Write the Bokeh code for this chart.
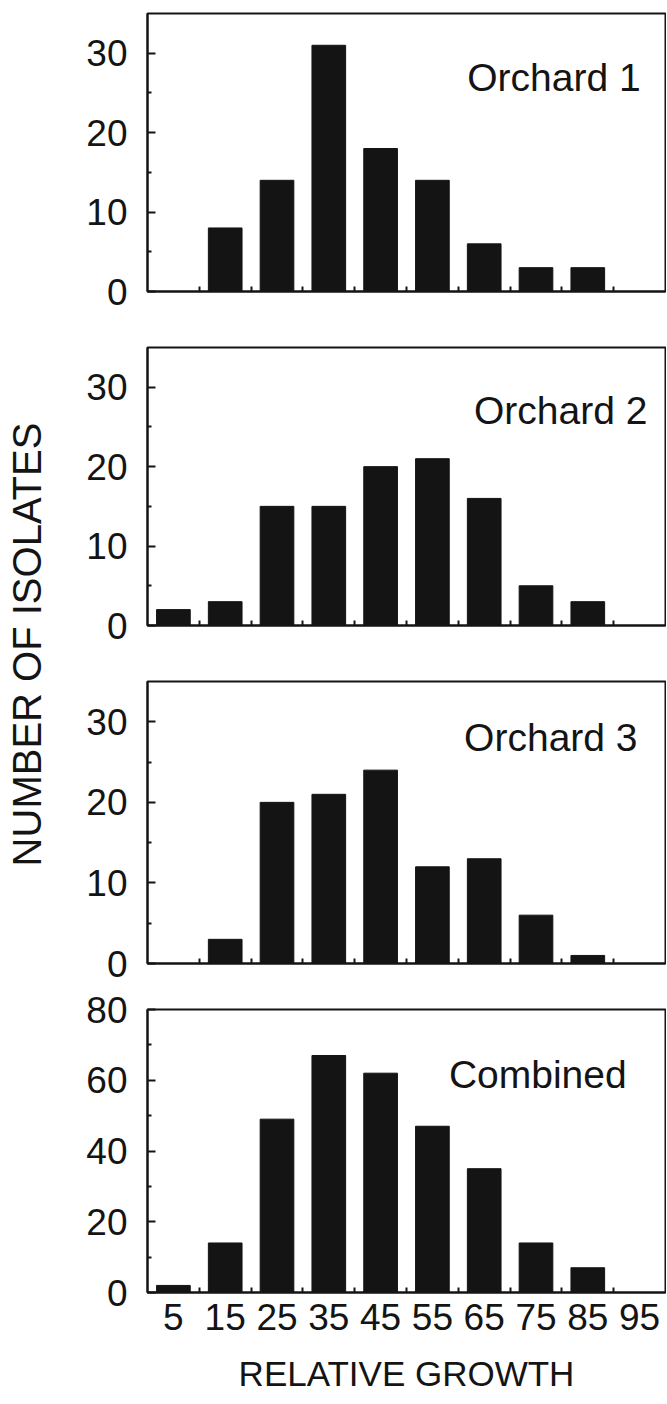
from bokeh.plotting import figure
from bokeh.layouts import column, row
from bokeh.models import Range1d, FixedTicker, Label
from bokeh.core.properties import value
from bokeh.embed import file_html
from bokeh.resources import INLINE
import math

# ---- data ----
growth_bins = [5, 15, 25, 35, 45, 55, 65, 75, 85, 95]
bin_edges = [10, 20, 30, 40, 50, 60, 70, 80, 90]
orchard1 = [0, 8, 14, 31, 18, 14, 6, 3, 3, 0]
orchard2 = [2, 3, 15, 15, 20, 21, 16, 5, 3, 0]
orchard3 = [0, 3, 20, 21, 24, 12, 13, 6, 1, 0]
combined = [2, 14, 49, 67, 62, 47, 35, 14, 7, 0]
panel_names = ["Orchard 1", "Orchard 2", "Orchard 3", "Combined"]
y_ticks_small = [0, 10, 20, 30]
y_minor_small = [5, 15, 25]
y_ticks_big = [0, 20, 40, 60, 80]
y_minor_big = [10, 30, 50, 70]
x_tick_labels = [str(v) for v in growth_bins]

FONT = "Liberation Sans"
INK = "#141414"

# layout: (height, top border, bottom border, y max, label x, label y)
specs = [
    (330, 13, 39, 35, 95.2, 27.0),
    (335, 17, 40, 35, 96.5, 27.1),
    (321, 16, 23, 35, 94.6, 28.0),
    (418, 23, 112, 80, 92.5, 61.7),
]
series = [orchard1, orchard2, orchard3, combined]

figs = []
for i, (h, top, bot, ymax, lx, ly) in enumerate(specs):
    last = (i == 3)
    p = figure(width=613, height=h, output_backend="svg", toolbar_location=None,
               x_range=Range1d(0, 100), y_range=Range1d(0, ymax),
               min_border_left=94, min_border_right=1,
               min_border_top=top, min_border_bottom=bot)
    p.background_fill_color = "white"
    p.border_fill_color = "white"
    p.outline_line_color = INK
    p.outline_line_width = 2
    p.xgrid.visible = False
    p.ygrid.visible = False

    p.vbar(x=growth_bins, top=series[i], width=6.5, bottom=0,
           fill_color=INK, line_color=INK, line_width=1)

    # x axis
    xa = p.xaxis[0]
    if last:
        xa.ticker = FixedTicker(ticks=growth_bins, minor_ticks=bin_edges)
        xa.major_label_overrides = {v: s for v, s in zip(growth_bins, x_tick_labels)}
        xa.major_label_text_font_size = "37px"
        xa.major_label_text_font = FONT
        xa.major_label_text_color = INK
        xa.major_label_standoff = 11
        xa.axis_label = "RELATIVE GROWTH"
        xa.axis_label_text_font = FONT
        xa.axis_label_text_font_size = "35px"
        xa.axis_label_text_font_style = "normal"
        xa.axis_label_text_color = INK
        xa.axis_label_standoff = 21
    else:
        xa.ticker = FixedTicker(ticks=[], minor_ticks=bin_edges)
        xa.major_label_text_font_size = "1px"
    xa.major_tick_in = 0
    xa.major_tick_out = 0
    xa.minor_tick_in = 5
    xa.minor_tick_out = 0
    xa.minor_tick_line_width = 2
    xa.minor_tick_line_color = INK
    xa.axis_line_width = 2
    xa.axis_line_color = INK

    # y axis
    ya = p.yaxis[0]
    if last:
        ya.ticker = FixedTicker(ticks=y_ticks_big, minor_ticks=y_minor_big)
    else:
        ya.ticker = FixedTicker(ticks=y_ticks_small, minor_ticks=y_minor_small)
    ya.major_tick_in = 8
    ya.major_tick_out = 0
    ya.minor_tick_in = 4
    ya.minor_tick_out = 0
    ya.major_tick_line_width = 2
    ya.minor_tick_line_width = 2
    ya.major_tick_line_color = INK
    ya.minor_tick_line_color = INK
    ya.axis_line_width = 2
    ya.axis_line_color = INK
    ya.major_label_text_font = FONT
    ya.major_label_text_font_size = "37px"
    ya.major_label_text_color = INK
    ya.major_label_standoff = 20

    p.add_layout(Label(x=lx, y=ly, text=panel_names[i], text_align="right",
                       text_baseline="alphabetic", text_font=FONT,
                       text_font_size="39px", text_color=INK))
    figs.append(p)

# left strip carrying the shared y-axis title
total_h = sum(s[0] for s in specs)
lab = figure(width=53, height=total_h, output_backend="svg", toolbar_location=None,
             x_range=Range1d(0, 53), y_range=Range1d(0, total_h),
             min_border_left=0, min_border_right=0, min_border_top=0, min_border_bottom=0)
lab.axis.visible = False
lab.grid.visible = False
lab.outline_line_color = None
lab.text(x=[26], y=[total_h - 644], text=["NUMBER OF ISOLATES"], angle=math.pi / 2,
         text_align="center", text_baseline="middle",
         text_font=value(FONT), text_font_size=value("40px"), text_color=INK)

layout = row(lab, column(*figs, spacing=0), spacing=0)
open("out.html", "w").write(file_html(layout, INLINE))
